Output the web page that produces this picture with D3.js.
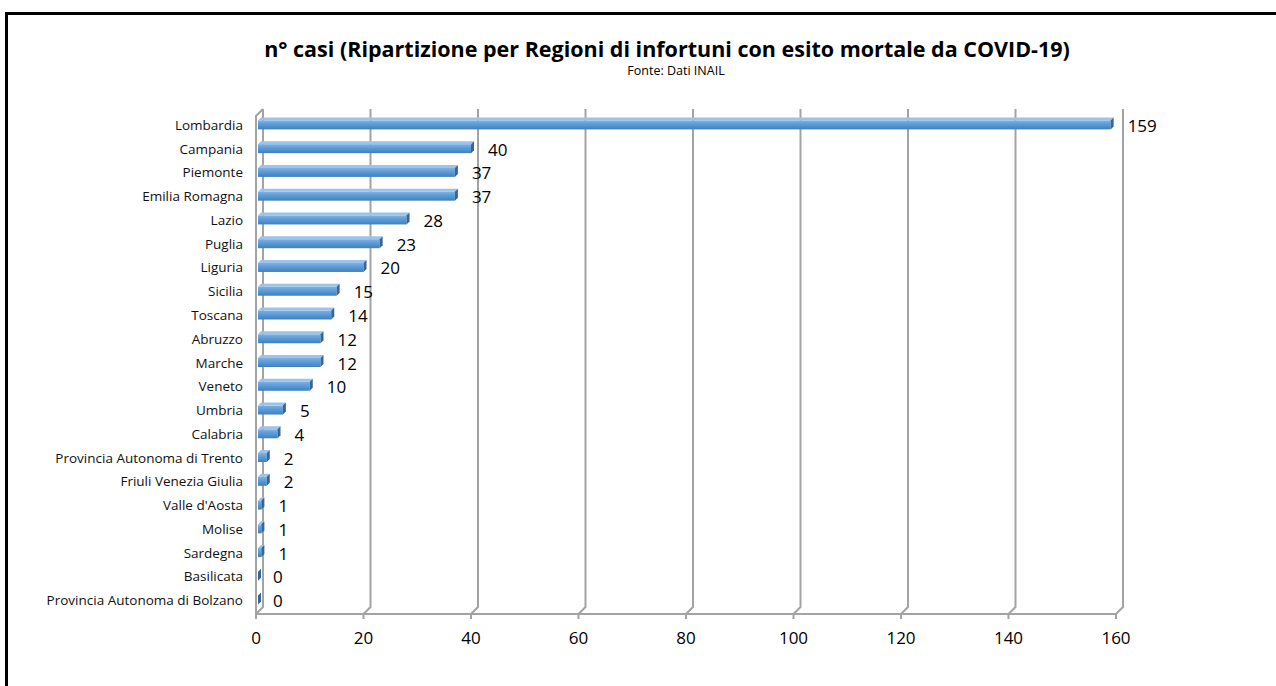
<!DOCTYPE html>
<html>
<head>
<meta charset="utf-8">
<script src="https://cdn.jsdelivr.net/npm/d3@7"></script>
<style>
  html, body { margin: 0; padding: 0; background: #fff; }
  svg { display: block; }
</style>
</head>
<body>
<svg id="chart" width="1276" height="686"></svg>
<script>
// data
const regions = ["Lombardia", "Campania", "Piemonte", "Emilia Romagna", "Lazio", "Puglia", "Liguria",
  "Sicilia", "Toscana", "Abruzzo", "Marche", "Veneto", "Umbria", "Calabria",
  "Provincia Autonoma di Trento", "Friuli Venezia Giulia", "Valle d'Aosta", "Molise",
  "Sardegna", "Basilicata", "Provincia Autonoma di Bolzano"];
const cases = [159, 40, 37, 37, 28, 23, 20, 15, 14, 12, 12, 10, 5, 4, 2, 2, 1, 1, 1, 0, 0];
const xTicks = [0, 20, 40, 60, 80, 100, 120, 140, 160];

const svg = d3.select("#chart");
const font = "'Open Sans', 'Noto Sans', sans-serif";

// frame (only top and left edges visible)
svg.append("path")
  .attr("d", "M6.5,686 V13.5 H1276")
  .attr("fill", "none")
  .attr("stroke", "#000")
  .attr("stroke-width", 3);

// title
svg.append("text")
  .attr("x", 667).attr("y", 57)
  .attr("text-anchor", "middle")
  .style("font", `bold 21.5px ${font}`)
  .text("n° casi (Ripartizione per Regioni di infortuni con esito mortale da COVID-19)");
svg.append("text")
  .attr("x", 676).attr("y", 75)
  .attr("text-anchor", "middle")
  .style("font", `12.5px ${font}`)
  .text("Fonte: Dati INAIL");

// scales
const x = d3.scaleLinear().domain([0, 160]).range([256, 1116]);
const y = d3.scaleBand().domain(regions).range([112, 611]).padding(0);
const depth = 7;           // wall depth
const wallTop = 109;       // top of back wall
const floorY = 614;        // front floor edge
const grid = "#a3a3a3";

// back-wall gridlines + floor slants
const g = svg.append("g");
g.selectAll(".grid")
  .data(xTicks)
  .join("path")
  .attr("class", "grid")
  .attr("fill", "none")
  .attr("stroke", grid)
  .attr("stroke-width", 2)
  .attr("d", d => `M${x(d) + depth},${wallTop} V${floorY - depth} L${x(d)},${floorY}`);

// left wall outline
g.append("path")
  .attr("fill", "none")
  .attr("stroke", grid)
  .attr("stroke-width", 2)
  .attr("d", `M${x(0)},${floorY} V${wallTop + depth} L${x(0) + depth},${wallTop}`);

// floor
g.append("path")
  .attr("fill", "none")
  .attr("stroke", grid)
  .attr("stroke-width", 2)
  .attr("d", `M${x(0)},${floorY} H${x(160)}`);

// tick marks + labels
g.selectAll(".tick")
  .data(xTicks)
  .join("line")
  .attr("class", "tick")
  .attr("x1", d => x(d)).attr("x2", d => x(d))
  .attr("y1", floorY).attr("y2", floorY + 5)
  .attr("stroke", grid)
  .attr("stroke-width", 2);
g.selectAll(".tlab")
  .data(xTicks)
  .join("text")
  .attr("class", "tlab")
  .attr("x", d => x(d))
  .attr("y", 644)
  .attr("text-anchor", "middle")
  .style("font", `17px ${font}`)
  .text(d => d);

// category labels
g.selectAll(".clab")
  .data(regions)
  .join("text")
  .attr("class", "clab")
  .attr("x", 243)
  .attr("y", d => y(d) + y.bandwidth() / 2 + 6)
  .attr("text-anchor", "end")
  .style("font", `13.5px ${font}`)
  .attr("fill", "#111")
  .text(d => d);

// bar gradient
const defs = svg.append("defs");
const grad = defs.append("linearGradient")
  .attr("id", "barGrad").attr("x1", 0).attr("y1", 0).attr("x2", 0).attr("y2", 1);
grad.append("stop").attr("offset", "0%").attr("stop-color", "#7fb1e4");
grad.append("stop").attr("offset", "45%").attr("stop-color", "#5b9bd5");
grad.append("stop").attr("offset", "100%").attr("stop-color", "#3f7fbf");

// bars (front, top, right side)
const bd = 3, bh = 9;
const bars = g.selectAll(".bar")
  .data(regions.map((r, i) => ({ r, v: cases[i] })))
  .join("g")
  .attr("class", "bar");

bars.append("rect")
  .attr("x", x(0) + 2)
  .attr("y", d => y(d.r) + y.bandwidth() / 2 - bh / 2 + 1)
  .attr("width", d => Math.max(0, x(d.v) - x(0) - 2))
  .attr("height", bh)
  .attr("fill", "url(#barGrad)");

bars.append("path")
  .attr("fill", "#9cc3ea")
  .attr("d", d => {
    const yt = y(d.r) + y.bandwidth() / 2 - bh / 2 + 1;
    const x0 = x(0) + 2, x1 = Math.max(x0, x(d.v));
    return `M${x0},${yt} L${x1},${yt} L${x1 + bd},${yt - bd} L${x0 + bd},${yt - bd} Z`;
  });

bars.append("path")
  .attr("fill", "#336699")
  .attr("d", d => {
    const yt = y(d.r) + y.bandwidth() / 2 - bh / 2 + 1;
    const x1 = Math.max(x(0) + 2, x(d.v));
    return `M${x1},${yt} L${x1 + bd},${yt - bd} L${x1 + bd},${yt + bh - bd} L${x1},${yt + bh} Z`;
  });

// value labels
bars.append("text")
  .attr("x", d => x(d.v) + 17)
  .attr("y", d => y(d.r) + y.bandwidth() / 2 + 8)
  .style("font", `17px ${font}`)
  .text(d => d.v);
</script>
</body>
</html>
